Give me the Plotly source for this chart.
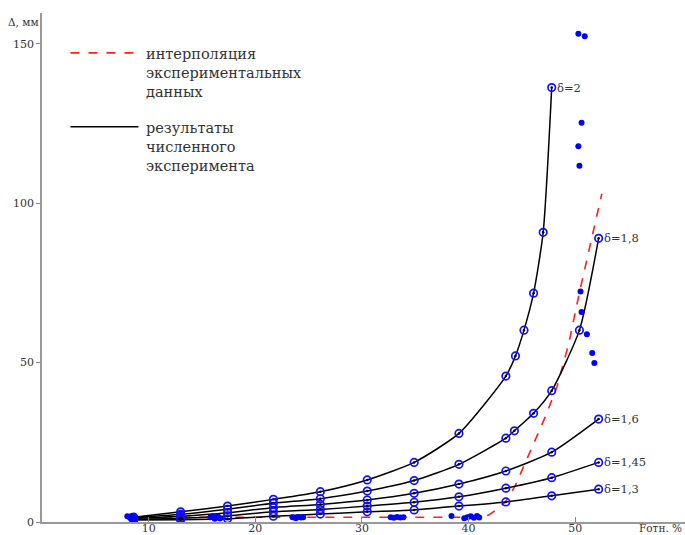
import plotly.graph_objects as go

# --- data -------------------------------------------------------------
x_grid = [8.6, 13.0, 17.4, 21.7, 26.1, 30.5, 34.9, 39.1, 43.5, 47.8, 52.2]
d13_y = [0.6, 0.7, 1.0, 1.8, 2.5, 3.2, 3.8, 5.0, 6.3, 8.2, 10.3]
d145_y = [0.9, 1.2, 1.9, 3.2, 3.9, 5.0, 6.2, 7.9, 10.6, 13.9, 18.7]
d16_y = [1.1, 1.8, 2.9, 4.5, 5.5, 6.9, 9.0, 11.9, 16.0, 21.9, 32.3]

d18_x = [8.6, 13.0, 17.4, 21.7, 26.1, 30.5, 34.9, 39.1, 43.5, 44.3, 46.1, 47.8, 50.4, 52.2]
d18_y = [1.3, 2.4, 4.0, 5.9, 7.3, 9.7, 13.0, 18.1, 26.3, 28.6, 34.1, 41.2, 60.2, 89.0]

d2_x = [8.6, 13.0, 17.4, 21.7, 26.1, 30.5, 34.9, 39.1, 43.5, 44.4, 45.2, 46.1, 47.0, 47.8]
d2_y = [1.5, 3.2, 5.0, 7.1, 9.5, 13.2, 18.7, 27.8, 45.8, 52.1, 60.2, 71.8, 90.9, 136.3]

exp_x = [8.0, 8.2, 8.4, 8.6, 8.3, 8.5, 15.8, 16.0, 16.3, 16.5, 16.7, 16.2,
         23.5, 23.8, 24.0, 24.3, 24.5, 32.7, 33.0, 33.3, 33.6, 33.9, 38.4,
         39.6, 39.9, 40.2, 40.5, 40.8, 41.0,
         50.3, 50.9, 50.6, 50.3, 50.4, 50.5, 50.6, 51.1, 51.6, 51.8]
exp_y = [1.8, 1.6, 1.9, 1.5, 1.2, 0.9, 1.5, 1.8, 1.3, 1.7, 1.1, 1.0,
         1.5, 1.2, 1.6, 1.4, 1.5, 1.5, 1.3, 1.6, 1.4, 1.5, 1.9,
         1.2, 1.5, 1.8, 1.3, 1.9, 1.4,
         153.2, 152.4, 125.3, 117.9, 111.8, 72.3, 65.9, 58.9, 53.0, 49.9]

interp_x = [8.0, 41.0, 41.9, 42.7, 43.5, 44.4, 45.3, 46.2, 47.2, 48.3, 49.4, 50.4, 51.4, 52.5]
interp_y = [1.5, 1.5, 2.2, 4.0, 6.4, 11.5, 18.4, 25.5, 33.0, 42.5, 56.0, 72.0, 87.0, 103.0]

curve_labels = ["δ=2", "δ=1,8", "δ=1,6", "δ=1,45", "δ=1,3"]
x_ticks = [10, 20, 30, 40, 50]
y_ticks = [0, 50, 100, 150]

legend_interp = "интерполяция<br>экспериментальных<br>данных"
legend_num = "результаты<br>численного<br>эксперимента"

# --- figure -----------------------------------------------------------
FONT = "DejaVu Serif"
TXT = "#333333"
fig = go.Figure()

fig.add_trace(go.Scatter(x=interp_x, y=interp_y, mode="lines",
                         line=dict(color="#ff2020", width=1.6, dash="dash"),
                         showlegend=False, hoverinfo="skip"))

curves = [(d2_x, d2_y), (d18_x, d18_y), (x_grid, d16_y), (x_grid, d145_y), (x_grid, d13_y)]
for cx, cy in curves:
    fig.add_trace(go.Scatter(x=cx, y=cy, mode="lines",
                             line=dict(color="black", width=1.5, shape="spline", smoothing=0.6),
                             showlegend=False))
    fig.add_trace(go.Scatter(x=cx, y=cy, mode="markers",
                             marker=dict(symbol="circle-open", size=7.5, color="#1010ff",
                                         line=dict(width=1.7, color="#1010ff")),
                             showlegend=False))
    fig.add_trace(go.Scatter(x=cx, y=cy, mode="markers",
                             marker=dict(symbol="circle", size=2.5, color="black"),
                             showlegend=False))

fig.add_trace(go.Scatter(x=exp_x, y=exp_y, mode="markers",
                         marker=dict(symbol="circle", size=6, color="#0000ff"),
                         showlegend=False))

for (cx, cy), lab in zip(curves, curve_labels):
    fig.add_annotation(x=cx[-1], y=cy[-1], text=lab, showarrow=False,
                       xanchor="left", yanchor="middle", xshift=3,
                       font=dict(family=FONT, size=11.5, color=TXT))

# legend (drawn manually)
fig.add_shape(type="line", xref="x", yref="y", x0=2.67, x1=9.04, y0=147.2, y1=147.2,
              line=dict(color="#ff2020", width=1.6, dash="dash"))
fig.add_shape(type="line", xref="x", yref="y", x0=2.67, x1=9.04, y0=124.0, y1=124.0,
              line=dict(color="black", width=1.6))
fig.add_annotation(x=9.6, y=141.0, text=legend_interp, showarrow=False,
                   xanchor="left", yanchor="middle", align="left",
                   font=dict(family=FONT, size=14.5, color=TXT))
fig.add_annotation(x=9.6, y=117.6, text=legend_num, showarrow=False,
                   xanchor="left", yanchor="middle", align="left",
                   font=dict(family=FONT, size=14.5, color=TXT))

# axis titles
fig.add_annotation(x=0, y=157, xref="paper", yref="y", text="Δ, мм", showarrow=False,
                   xanchor="right", yanchor="middle", xshift=-1,
                   font=dict(family=FONT, size=10.5, color=TXT))
fig.add_annotation(x=1, y=0, xref="paper", yref="paper", text="Fотн. %", showarrow=False,
                   xanchor="right", yanchor="bottom", xshift=-1, yshift=-14,
                   font=dict(family=FONT, size=10.5, color=TXT))

fig.update_layout(
    width=685, height=535,
    margin=dict(l=42, r=0, t=13, b=13, autoexpand=False),
    paper_bgcolor="white", plot_bgcolor="white",
    font=dict(family=FONT, size=11, color=TXT),
    showlegend=False,
)
fig.update_xaxes(range=[0, 60.3], tickvals=x_ticks, ticks="inside", ticklen=5,
                 tickcolor="#888888", showline=True, linecolor="#999999", linewidth=1.5,
                 showgrid=False, zeroline=False, automargin=False, ticklabelstandoff=-5,
                 tickfont=dict(family=FONT, size=11, color=TXT))
fig.update_yaxes(range=[0, 159.7], tickvals=y_ticks, ticks="outside", ticklen=4,
                 tickcolor="#888888", showline=True, linecolor="#999999", linewidth=1.5,
                 showgrid=False, zeroline=False, automargin=False,
                 tickfont=dict(family=FONT, size=11, color=TXT))

fig.write_html("out.html")
